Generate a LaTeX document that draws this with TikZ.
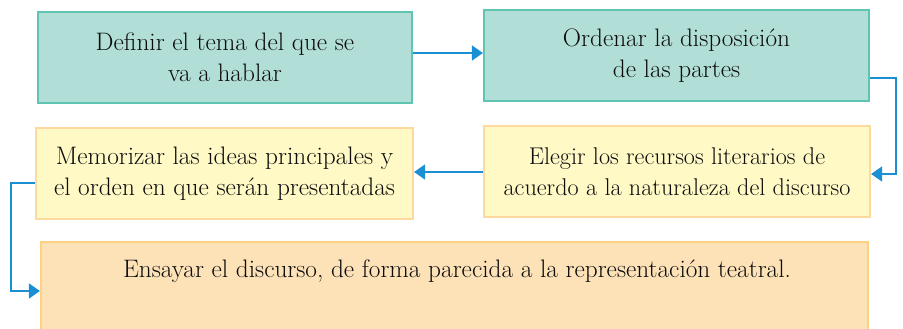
\documentclass[tikz,border=0pt]{standalone}
\usetikzlibrary{arrows.meta}
\definecolor{tealfill}{HTML}{B1DFD7}
\definecolor{tealdraw}{HTML}{5FC5B2}
\definecolor{yelfill}{HTML}{FFF9C6}
\definecolor{yeldraw}{HTML}{FDD9A0}
\definecolor{orfill}{HTML}{FDE2B8}
\definecolor{ordraw}{HTML}{FFD27F}
\definecolor{arrowblue}{HTML}{1A8FD3}
\definecolor{txt}{HTML}{0D0D0D}
\tikzset{
  basebox/.style={draw, line width=2.2pt, align=center, inner sep=0pt, text=txt,
    font=\fontsize{25.3}{31}\selectfont},
  tealbox/.style={basebox, fill=tealfill, draw=tealdraw},
  yelbox/.style={basebox, fill=yelfill, draw=yeldraw},
  orbox/.style={basebox, fill=orfill, draw=ordraw},
  conn/.style={draw=arrowblue, line width=1.6pt, -{Triangle[length=11pt,width=15pt]}},
}
\begin{document}
\begin{tikzpicture}[x=1pt,y=-1pt]
\useasboundingbox (0,0) rectangle (903,329);
\clip (0,0) rectangle (903,329);
\node[tealbox, minimum width=374pt, minimum height=91pt] (a) at (225,57.5)
  {Definir el tema del que se\\va a hablar};
\node[tealbox, minimum width=385pt, minimum height=91pt] (b) at (676.5,55.5)
  {Ordenar la disposición\\de las partes};
\node[yelbox, minimum width=377pt, minimum height=91pt] (c) at (224.5,173.5)
  {Memorizar las ideas principales y\\el orden en que serán presentadas};
\node[yelbox, minimum width=386pt, minimum height=91pt, font=\fontsize{24.2}{31}\selectfont] (d) at (677,171.5)
  {Elegir los recursos literarios de\\acuerdo a la naturaleza del discurso};
\node[orbox, minimum width=827pt, minimum height=100pt] (e) at (454.5,292) {};
\node[font=\fontsize{25.3}{31}\selectfont, text=txt] (et) at (457,271)
  {Ensayar el discurso, de forma parecida a la representación teatral.};
\coordinate (k1) at (896,78);
\coordinate (k2) at (11,183);
\draw[conn] (a.east |- 0,53) -- (b.west |- 0,53);
\draw[conn] (b.east |- k1) -- (k1) |- (d.east |- 0,174);
\draw[conn] (d.west |- 0,172) -- (c.east |- 0,172);
\draw[conn] (c.west |- k2) -- (k2) |- (e.west |- 0,291);
\end{tikzpicture}
\end{document}
